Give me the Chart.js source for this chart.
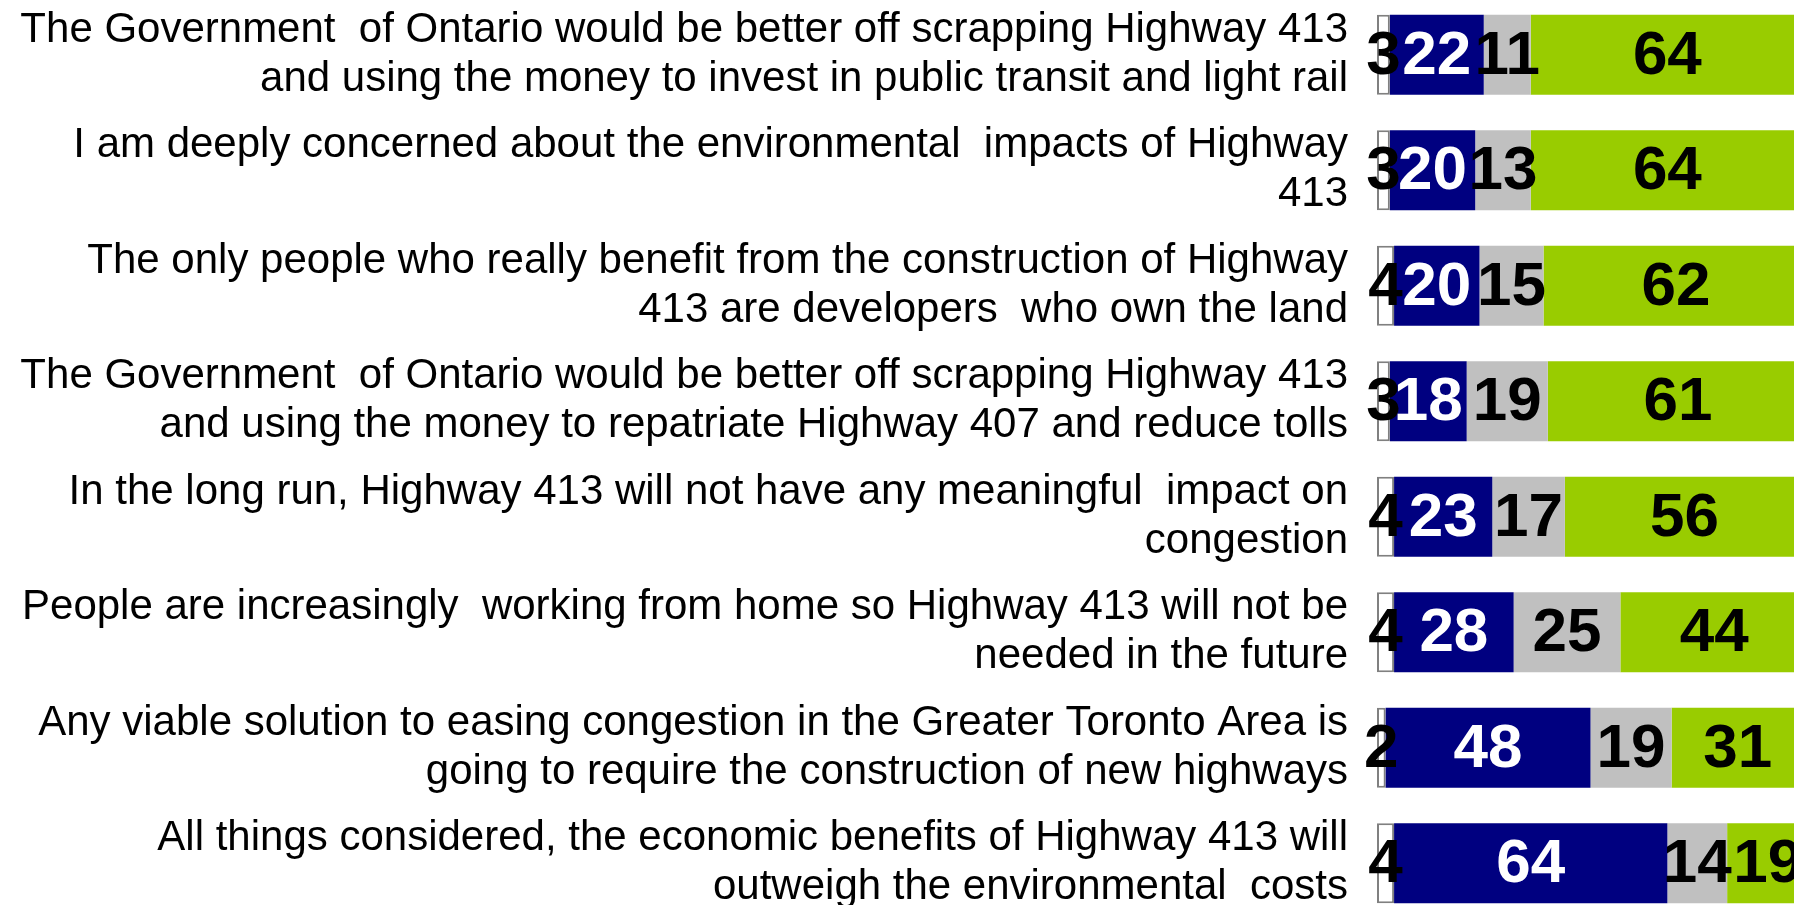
<!DOCTYPE html>
<html>
<head>
<meta charset="utf-8">
<script src="https://cdn.jsdelivr.net/npm/chart.js@4/dist/chart.umd.min.js"></script>
<style>
    html, body { margin: 0; padding: 0; background: #ffffff; overflow: hidden; }
    body { width: 1794px; height: 905px; position: relative; }
    .chart-container { position: absolute; left: 0; top: -3px; width: 1804px; height: 924px; }
</style>
</head>
<body>
<div class="chart-container"><canvas id="attitudeChart"></canvas></div>
<script>
// Statements (multi-line, as shown on the slide)
const statements = [
    ['The Government  of Ontario would be better off scrapping Highway 413', 'and using the money to invest in public transit and light rail'],
    ['I am deeply concerned about the environmental  impacts of Highway', '413'],
    ['The only people who really benefit from the construction of Highway', '413 are developers  who own the land'],
    ['The Government  of Ontario would be better off scrapping Highway 413', 'and using the money to repatriate Highway 407 and reduce tolls'],
    ['In the long run, Highway 413 will not have any meaningful  impact on', 'congestion'],
    ['People are increasingly  working from home so Highway 413 will not be', 'needed in the future'],
    ['Any viable solution to easing congestion in the Greater Toronto Area is', 'going to require the construction of new highways'],
    ['All things considered, the economic benefits of Highway 413 will', 'outweigh the environmental  costs']
];

// Percentages per segment
const dontKnow = [3, 3, 4, 3, 4, 4, 2, 4];
const disagree = [22, 20, 20, 18, 23, 28, 48, 64];
const neutral  = [11, 13, 15, 19, 17, 25, 19, 14];
const agree    = [64, 64, 62, 61, 56, 44, 31, 19];

const FONT = "'Liberation Sans', Arial, sans-serif";

// Draw the value inside each segment
const segmentLabels = {
    id: 'segmentLabels',
    afterDatasetsDraw(chart) {
        const ctx = chart.ctx;
        ctx.save();
        ctx.font = 'bold 62px ' + FONT;
        ctx.textAlign = 'center';
        ctx.textBaseline = 'middle';
        chart.data.datasets.forEach((ds, i) => {
            const meta = chart.getDatasetMeta(i);
            ctx.fillStyle = ds.labelColor;
            meta.data.forEach((bar, j) => {
                const p = bar.getProps(['x', 'y', 'base'], true);
                ctx.fillText(String(ds.data[j]), (p.x + p.base) / 2, p.y + 2);
            });
        });
        ctx.restore();
    }
};

const ctx = document.getElementById('attitudeChart').getContext('2d');
new Chart(ctx, {
    type: 'bar',
    data: {
        labels: statements,
        datasets: [
            { label: 'DK/NA', data: dontKnow, backgroundColor: '#ffffff', borderColor: '#808080', borderWidth: 2, borderSkipped: false, labelColor: '#000000' },
            { label: 'Disagree', data: disagree, backgroundColor: '#000080', labelColor: '#ffffff' },
            { label: 'Neutral', data: neutral, backgroundColor: '#c0c0c0', labelColor: '#000000' },
            { label: 'Agree', data: agree, backgroundColor: '#99cc00', labelColor: '#000000' }
        ]
    },
    options: {
        indexAxis: 'y',
        responsive: true,
        maintainAspectRatio: false,
        animation: false,
        layout: { padding: 0 },
        datasets: {
            bar: { categoryPercentage: 1, barPercentage: 0.693 }
        },
        plugins: {
            legend: { display: false },
            tooltip: { enabled: false }
        },
        scales: {
            x: {
                stacked: true,
                min: 0,
                max: 100,
                display: false
            },
            y: {
                stacked: true,
                grid: { display: false, drawTicks: false },
                border: { display: false },
                ticks: {
                    color: '#000000',
                    padding: 29,
                    crossAlign: 'near',
                    font: { family: FONT, size: 42, lineHeight: 1.16 }
                },
                afterFit(scale) {
                    scale.width = 1377;
                    scale.paddingTop = 0;
                    scale.paddingBottom = 0;
                }
            }
        }
    },
    plugins: [segmentLabels]
});
</script>
</body>
</html>
